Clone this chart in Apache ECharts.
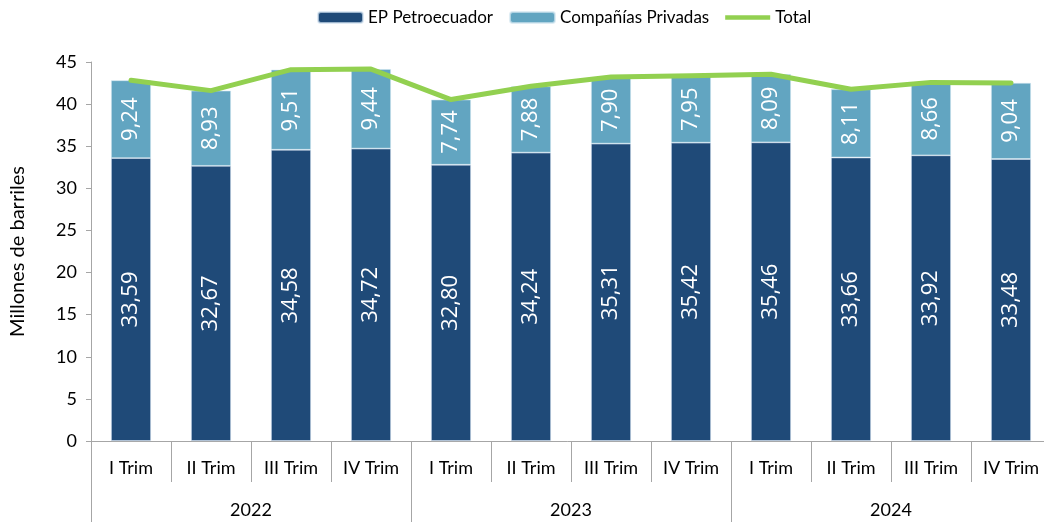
<!DOCTYPE html>
<html lang="es">
<head>
    <meta charset="UTF-8">
    <title>Producción de petróleo</title>
    <script src="https://cdn.jsdelivr.net/npm/echarts@6/dist/echarts.min.js"></script>
</head>
<body style="margin:0">
<div id="main" style="width: 1044px; height: 522px"></div>
</body>
<script>
    let trimestres = ['I Trim','II Trim','III Trim','IV Trim','I Trim','II Trim','III Trim','IV Trim','I Trim','II Trim','III Trim','IV Trim'];
    let anios = ['2022','2023','2024'];
    let petroecuador = [33.59,32.67,34.58,34.72,32.80,34.24,35.31,35.42,35.46,33.66,33.92,33.48];
    let privadas = [9.24,8.93,9.51,9.44,7.74,7.88,7.90,7.95,8.09,8.11,8.66,9.04];
    let total = [];
    for(let i = 0;i<petroecuador.length;i++){
        total.push(+(petroecuador[i] + privadas[i]).toFixed(2))
    }
    let fuente = 'Lato';
    let gris = '#A6A6A6';
    let formato = function(p){ return p.value.toFixed(2).replace('.', ','); };

    let myChart = echarts.init(document.getElementById('main'));
    let option = {
        animation: false,
        legend: {
            top: 4,
            left: 312,
            itemWidth: 45,
            itemHeight: 11,
            itemGap: 16,
            textStyle: {fontFamily: fuente, fontSize: 17, color: '#000'},
            data: [
                'EP Petroecuador',
                'Compañías Privadas',
                {name: 'Total', icon: 'path://M0,0h48v5h-48z'}   // solo la línea, sin punto
            ]
        },
        // el gráfico original está recortado a la derecha
        grid: {left: 91, top: 62, width: 960, height: 379, outerBoundsMode: 'none'},
        xAxis: [
            {
                type: 'category',
                data: trimestres,
                axisLine: {lineStyle: {color: gris}},
                axisTick: {show: true, length: 41, interval: 0, lineStyle: {color: gris}},
                axisLabel: {interval: 0, margin: 18, fontFamily: fuente, fontSize: 18, color: '#000'}
            },
            {   // fila de años
                type: 'category',
                data: anios,
                position: 'bottom',
                axisLine: {show: false},
                axisTick: {show: true, length: 81, interval: 0, lineStyle: {color: gris}},
                axisLabel: {interval: 0, margin: 60, fontFamily: fuente, fontSize: 18, color: '#000'}
            }
        ],
        yAxis: {
            type: 'value',
            min: 0,
            max: 45,
            interval: 5,
            name: 'Millones de barriles',
            nameLocation: 'middle',
            nameGap: 63,
            nameTextStyle: {fontFamily: fuente, fontSize: 20, color: '#000'},
            axisLine: {show: true, lineStyle: {color: gris}},
            axisTick: {show: true, length: 5, lineStyle: {color: gris}},
            axisLabel: {margin: 14, fontFamily: fuente, fontSize: 18, color: '#000'},
            splitLine: {show: false}
        },
        series: [
            {
                name: 'EP Petroecuador',
                type: 'bar',
                stack: 'prod',
                barWidth: 40,
                itemStyle: {color: '#1F4A78', borderColor: 'rgba(210,225,240,0.7)', borderWidth: 0.8},
                label: {
                    show: true, position: 'inside', rotate: 90,
                    fontFamily: 'Open Sans', fontSize: 22, color: '#fff',
                    formatter: formato
                },
                data: petroecuador
            },
            {
                name: 'Compañías Privadas',
                type: 'bar',
                stack: 'prod',
                barWidth: 40,
                itemStyle: {color: '#62A5C1', borderColor: 'rgba(210,230,240,0.7)', borderWidth: 0.8},
                label: {
                    show: true, position: 'inside', rotate: 90,
                    fontFamily: 'Open Sans', fontSize: 22, color: '#fff',
                    formatter: formato
                },
                data: privadas
            },
            {
                name: 'Total',
                type: 'line',
                symbol: 'none',
                z: 5,
                lineStyle: {color: '#92D050', width: 5, cap: 'round', join: 'round'},
                itemStyle: {color: '#92D050'},
                data: total
            }
        ]
    };
    myChart.setOption(option);
</script>
</html>
